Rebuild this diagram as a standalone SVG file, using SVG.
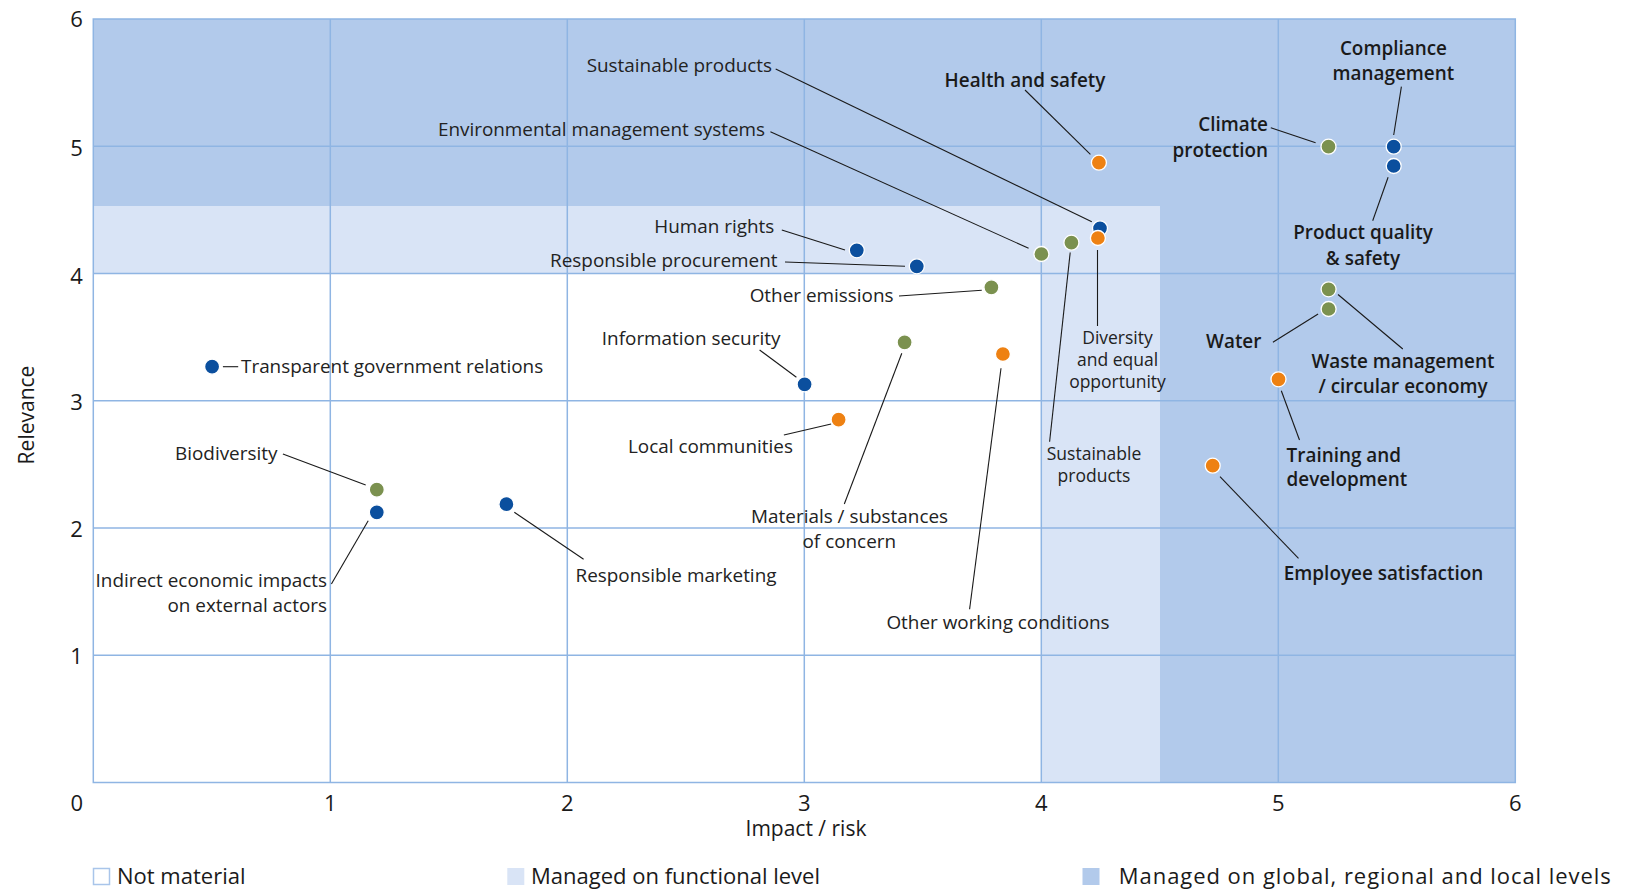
<svg xmlns="http://www.w3.org/2000/svg" width="1629" height="890" viewBox="0 0 1629 890">
<style>
.t{font-family:"Open Sans","Liberation Sans",sans-serif;font-size:18.9px;fill:#222}
.b{font-family:"Open Sans","Liberation Sans",sans-serif;font-size:18.9px;font-weight:600;fill:#1a1a1a}
.s{font-size:17.5px}
.tick{font-family:"Open Sans","Liberation Sans",sans-serif;font-size:22px;fill:#1a1a1a;text-anchor:middle}
.ax{font-family:"Open Sans","Liberation Sans",sans-serif;font-size:21px;fill:#1a1a1a;text-anchor:middle}
.lg{font-family:"Open Sans","Liberation Sans",sans-serif;font-size:22px;fill:#1a1a1a}
.e{text-anchor:end}.m{text-anchor:middle}
.grid line{stroke:#8fb5e3;stroke-width:1.5}
.ld line{stroke:#1a1a1a;stroke-width:1.1}
.bl{fill:#0b4f9e;stroke:#fff;stroke-width:1.3}
.gr{fill:#7b914f;stroke:#fff;stroke-width:1.3}
.or{fill:#ee8112;stroke:#fff;stroke-width:1.3}
</style>
<rect width="1629" height="890" fill="#fff"/>
<g id="plot-areas">
<rect x="93.3" y="19" width="1422" height="763.5" fill="#b2caeb"/>
<rect x="93.3" y="206" width="1066.7" height="576.5" fill="#d9e4f6"/>
<rect x="93.3" y="273.5" width="948" height="509" fill="#fff"/>
</g>
<g id="grid" class="grid">
<line x1="330.3" y1="19" x2="330.3" y2="782.5"/>
<line x1="567.3" y1="19" x2="567.3" y2="782.5"/>
<line x1="804.3" y1="19" x2="804.3" y2="782.5"/>
<line x1="1041.3" y1="19" x2="1041.3" y2="782.5"/>
<line x1="1278.3" y1="19" x2="1278.3" y2="782.5"/>
<line x1="93.3" y1="146.25" x2="1515.3" y2="146.25"/>
<line x1="93.3" y1="273.5" x2="1515.3" y2="273.5"/>
<line x1="93.3" y1="400.75" x2="1515.3" y2="400.75"/>
<line x1="93.3" y1="528" x2="1515.3" y2="528"/>
<line x1="93.3" y1="655.25" x2="1515.3" y2="655.25"/>
<rect x="93.3" y="19" width="1422" height="763.5" fill="none" stroke="#8fb5e3" stroke-width="1.5"/>
</g>
<g id="axes">
<text class="tick" x="76.5" y="27">6</text>
<text class="tick" x="76.5" y="156">5</text>
<text class="tick" x="76.5" y="284">4</text>
<text class="tick" x="76.5" y="410">3</text>
<text class="tick" x="76.5" y="537">2</text>
<text class="tick" x="76.5" y="664">1</text>
<text class="tick" x="76.7" y="810.7">0</text>
<text class="tick" x="330.3" y="810.7">1</text>
<text class="tick" x="567.3" y="810.7">2</text>
<text class="tick" x="804.3" y="810.7">3</text>
<text class="tick" x="1041.3" y="810.7">4</text>
<text class="tick" x="1278.3" y="810.7">5</text>
<text class="tick" x="1515.3" y="810.7">6</text>
<text class="ax" x="806" y="836">Impact / risk</text>
<text class="ax" transform="translate(34 415) rotate(-90)">Relevance</text>
</g>
<g id="connectors" class="ld">
<line x1="222.9" y1="366.7" x2="238.2" y2="366.7"/>
<line x1="282.9" y1="454" x2="365.7" y2="485"/>
<line x1="368.2" y1="520.7" x2="331.4" y2="584"/>
<line x1="514.3" y1="512.3" x2="583.6" y2="559.3"/>
<line x1="759.6" y1="350" x2="796.4" y2="377.3"/>
<line x1="783.9" y1="435" x2="831.1" y2="424"/>
<line x1="901.8" y1="353.3" x2="844.3" y2="504"/>
<line x1="1001" y1="368.3" x2="969.6" y2="609.3"/>
<line x1="899" y1="296" x2="981.8" y2="290.3"/>
<line x1="781.8" y1="230" x2="845" y2="250"/>
<line x1="785" y1="262" x2="905" y2="266.3"/>
<line x1="770.4" y1="131.7" x2="1028.6" y2="248.3"/>
<line x1="775.7" y1="69" x2="1091.8" y2="221.7"/>
<line x1="1070.2" y1="252.5" x2="1049.6" y2="441.7"/>
<line x1="1097.5" y1="250" x2="1097.5" y2="326"/>
<line x1="1025" y1="90" x2="1090.4" y2="154.3"/>
<line x1="1270.8" y1="127.7" x2="1315.6" y2="142.7"/>
<line x1="1401.4" y1="86.7" x2="1393.7" y2="135"/>
<line x1="1388.1" y1="177.3" x2="1372.7" y2="220.7"/>
<line x1="1272.9" y1="342.3" x2="1318.1" y2="314"/>
<line x1="1338" y1="294.5" x2="1402.8" y2="349"/>
<line x1="1281.3" y1="390.7" x2="1299.5" y2="440"/>
<line x1="1220" y1="476.7" x2="1298.5" y2="558.3"/>
</g>
<g id="n-transparent"><circle class="bl" cx="212.1" cy="366.7" r="7.5"/><text class="t" x="241" y="372.7">Transparent government relations</text></g>
<g id="n-biodiversity"><circle class="gr" cx="376.8" cy="489.7" r="7.5"/><text class="t e" x="277.4" y="460">Biodiversity</text></g>
<g id="n-indirect"><circle class="bl" cx="376.8" cy="512.3" r="7.5"/><text class="t e" x="327" y="587.3">Indirect economic impacts</text><text class="t e" x="327" y="611.7">on external actors</text></g>
<g id="n-marketing"><circle class="bl" cx="506.4" cy="504.2" r="7.5"/><text class="t" x="575.5" y="581.7">Responsible marketing</text></g>
<g id="n-infosec"><circle class="bl" cx="804.6" cy="384.3" r="7.5"/><text class="t e" x="780.4" y="345">Information security</text></g>
<g id="n-local"><circle class="or" cx="838.6" cy="419.7" r="7.5"/><text class="t e" x="792.9" y="453.3">Local communities</text></g>
<g id="n-materials"><circle class="gr" cx="904.6" cy="342.3" r="7.5"/><text class="t m" x="849.6" y="522.7">Materials / substances</text><text class="t m" x="849.3" y="548.3">of concern</text></g>
<g id="n-working"><circle class="or" cx="1002.9" cy="354" r="7.5"/><text class="t m" x="998" y="629">Other working conditions</text></g>
<g id="n-emissions"><circle class="gr" cx="991.4" cy="287.3" r="7.5"/><text class="t e" x="893.5" y="302">Other emissions</text></g>
<g id="n-human"><circle class="bl" cx="856.8" cy="250.3" r="7.5"/><text class="t e" x="774.3" y="233.3">Human rights</text></g>
<g id="n-procurement"><circle class="bl" cx="916.8" cy="266.3" r="7.5"/><text class="t e" x="777.5" y="267.3">Responsible procurement</text></g>
<g id="n-ems"><circle class="gr" cx="1041.4" cy="254" r="7.5"/><text class="t e" x="765" y="136">Environmental management systems</text></g>
<g id="n-sustprod-green"><circle class="gr" cx="1071.4" cy="242.7" r="7.5"/><text class="t s m" x="1094" y="460">Sustainable</text><text class="t s m" x="1094" y="482">products</text></g>
<g id="n-sustprod-blue"><circle class="bl" cx="1100" cy="228.3" r="7.5"/><text class="t e" x="772.1" y="71.7">Sustainable products</text></g>
<g id="n-diversity"><circle class="or" cx="1097.9" cy="238" r="7.5"/><text class="t s m" x="1117.5" y="344">Diversity</text><text class="t s m" x="1117.5" y="366">and equal</text><text class="t s m" x="1117.5" y="388">opportunity</text></g>
<g id="n-health"><circle class="or" cx="1098.9" cy="162.7" r="7.5"/><text class="b" x="944.6" y="87.3">Health and safety</text></g>
<g id="n-climate"><circle class="gr" cx="1328.5" cy="146.7" r="7.5"/><text class="b e" x="1268" y="130.7">Climate</text><text class="b e" x="1268" y="156.7">protection</text></g>
<g id="n-compliance"><circle class="bl" cx="1393.7" cy="146.7" r="7.5"/><text class="b m" x="1393.4" y="55">Compliance</text><text class="b m" x="1393.4" y="80">management</text></g>
<g id="n-quality"><circle class="bl" cx="1393.7" cy="166" r="7.5"/><text class="b m" x="1363" y="239.3">Product quality</text><text class="b m" x="1363" y="265">&amp; safety</text></g>
<g id="n-waste"><circle class="gr" cx="1328.6" cy="289.3" r="7.5"/><text class="b m" x="1403" y="368.3">Waste management</text><text class="b m" x="1403" y="392.7">/ circular economy</text></g>
<g id="n-water"><circle class="gr" cx="1328.6" cy="309" r="7.5"/><text class="b e" x="1261.4" y="348.3">Water</text></g>
<g id="n-training"><circle class="or" cx="1278.5" cy="379.3" r="7.5"/><text class="b" x="1286.6" y="461.7">Training and</text><text class="b" x="1286.6" y="485.7">development</text></g>
<g id="n-employee"><circle class="or" cx="1212.7" cy="465.7" r="7.5"/><text class="b" x="1283.8" y="580">Employee satisfaction</text></g>
<g id="legend">
<rect x="93.5" y="868.5" width="16" height="16" fill="#fff" stroke="#a9c5ea" stroke-width="1.5"/>
<text class="lg" x="117" y="884">Not material</text>
<rect x="507.3" y="868" width="17" height="17" fill="#d9e4f6"/>
<text class="lg" x="531" y="884">Managed on functional level</text>
<rect x="1082.5" y="868" width="17" height="17" fill="#b2caeb"/>
<text class="lg" x="1118.8" y="884" textLength="492" lengthAdjust="spacing">Managed on global, regional and local levels</text>
</g>
</svg>
